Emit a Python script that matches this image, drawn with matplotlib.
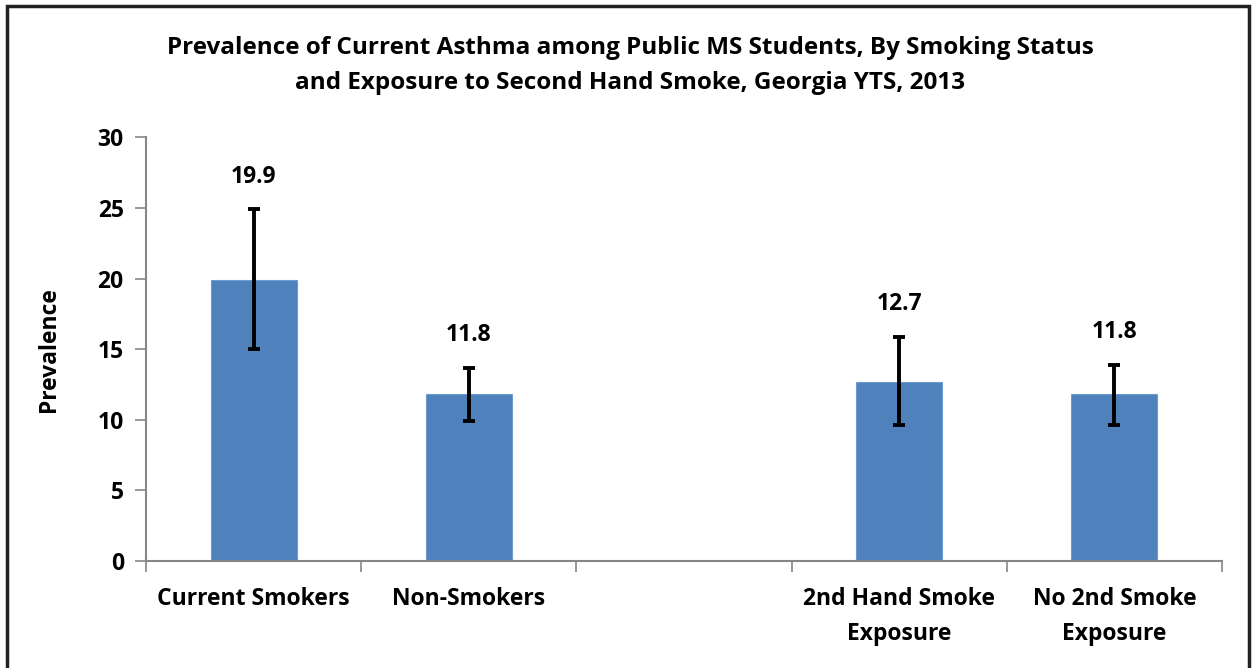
import numpy as np
import matplotlib.pyplot as plt
from matplotlib.patches import Rectangle

plt.rcParams['font.family'] = ['Open Sans', 'DejaVu Sans']
plt.rcParams['font.weight'] = 'bold'

# data (empty slot in the middle separates the two groups)
categories = ['Current Smokers', 'Non-Smokers', '', '2nd Hand Smoke\nExposure', 'No 2nd Smoke\nExposure']
prevalence = [19.9, 11.8, np.nan, 12.7, 11.8]
ci_low = [15.0, 9.9, np.nan, 9.6, 9.6]
ci_high = [24.9, 13.7, np.nan, 15.9, 13.9]

x = np.arange(len(categories))
vals = np.array(prevalence)
err = np.array([vals - np.array(ci_low), np.array(ci_high) - vals])

fig = plt.figure(figsize=(12.53, 6.68), dpi=100)
ax = fig.add_axes([0.1165, 0.1602, 0.8588, 0.634])

ax.bar(x, vals, width=0.4, color='#4F81BD', edgecolor='#6F9AD0', linewidth=0.8, zorder=2)
ax.errorbar(x, vals, yerr=err, fmt='none', ecolor='black', elinewidth=2.8,
            capsize=4, capthick=2.8, zorder=3)

for xi, v, hi in zip(x, prevalence, ci_high):
    if np.isnan(v):
        continue
    ax.annotate(f'{v:.1f}', (xi, hi), xytext=(0, 15), textcoords='offset points',
                ha='center', va='bottom', fontsize=16.5, fontweight='bold')

ax.set_ylim(0, 30)
ax.set_yticks(range(0, 31, 5))
ax.set_xlim(-0.5, len(categories) - 0.5)
ax.set_xticks(np.arange(-0.5, len(categories), 1.0))
ax.set_xticklabels([])
ax.set_xticks(x, minor=True)
ax.set_xticklabels(categories, minor=True, fontsize=16.5, fontweight='bold', linespacing=1.6)
ax.tick_params(axis='x', which='minor', length=0, pad=19)
ax.tick_params(axis='x', which='major', length=8, color='#868686', width=1.2)
ax.tick_params(axis='y', length=8, color='#868686', width=1.2, labelsize=16.5, pad=8)
for lab in ax.get_yticklabels():
    lab.set_fontweight('bold')

for s in ['top', 'right']:
    ax.spines[s].set_visible(False)
for s in ['left', 'bottom']:
    ax.spines[s].set_color('#868686')
    ax.spines[s].set_linewidth(1.5)

ax.set_ylabel('Prevalence', fontsize=16.5, fontweight='bold', labelpad=26)

fig.text(0.503, 0.902, 'Prevalence of Current Asthma among Public MS Students, By Smoking Status\n'
         'and Exposure to Second Hand Smoke, Georgia YTS, 2013',
         ha='center', va='center', fontsize=17.5, fontweight='bold', linespacing=1.6)

# outer chart border
fig.patches.append(Rectangle((7 / 1253, -0.05), 1242 / 1253, 1.05 - 6 / 668,
                             transform=fig.transFigure, fill=False,
                             edgecolor='#222222', linewidth=2.5))

fig.savefig('out.png', dpi=100)
